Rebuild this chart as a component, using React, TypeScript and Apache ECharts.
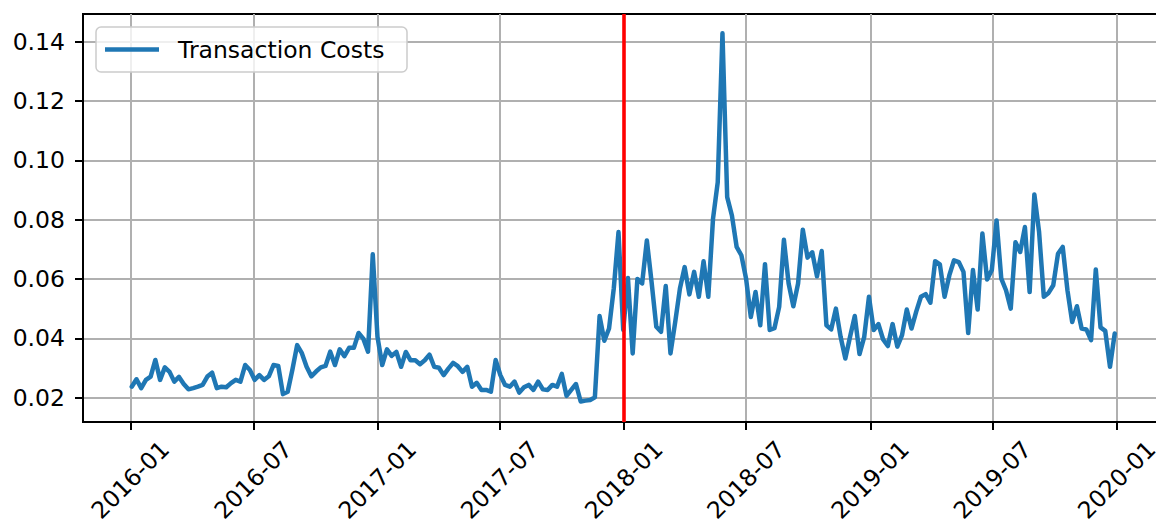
import React, { useEffect, useRef } from "react";
import * as echarts from "echarts";

const SERIES_NAME = "Transaction Costs";
const START_DATE = "2016-01-03"; // first weekly observation
const EVENT_DATE = "2018-01-01"; // red vertical marker
const X_TICKS = ["2016-01", "2016-07", "2017-01", "2017-07", "2018-01", "2018-07", "2019-01", "2019-07", "2020-01"];
const Y_TICKS = [0.02, 0.04, 0.06, 0.08, 0.1, 0.12, 0.14];

const VALUES_2016 = [
  0.0237, 0.0262, 0.0232, 0.026, 0.0271, 0.0327, 0.026, 0.0302, 0.0287, 0.0254, 0.027, 0.0246, 0.0228,
  0.0232, 0.0237, 0.0243, 0.0271, 0.0284, 0.0232, 0.0237, 0.0235, 0.0249, 0.026, 0.0254, 0.031, 0.0293,
  0.026, 0.0276, 0.026, 0.0272, 0.031, 0.0307, 0.0212, 0.022, 0.0295, 0.0377, 0.035, 0.0304, 0.0272,
  0.0288, 0.0302, 0.0307, 0.0355, 0.031, 0.0363, 0.034, 0.0368, 0.0368, 0.0418, 0.0399, 0.0355, 0.0683,
];
const VALUES_2017 = [
  0.0405, 0.031, 0.0363, 0.0341, 0.0354, 0.0304, 0.0354, 0.0326, 0.0326, 0.0313, 0.0326, 0.0345, 0.0304,
  0.0301, 0.0276, 0.0298, 0.0317, 0.0306, 0.0287, 0.0304, 0.0237, 0.025, 0.0226, 0.0226, 0.022, 0.0327,
  0.0276, 0.0243, 0.0237, 0.0254, 0.0217, 0.0235, 0.0243, 0.0226, 0.0254, 0.0228, 0.0226, 0.0243, 0.0237,
  0.028, 0.0206, 0.0226, 0.0246, 0.0187, 0.019, 0.0192, 0.0201, 0.0475, 0.0392, 0.0433, 0.0568, 0.0758,
];
const VALUES_2018 = [
  0.0428, 0.0603, 0.0349, 0.06, 0.0585, 0.073, 0.059, 0.0439, 0.0422, 0.0576, 0.0349, 0.0455, 0.0568,
  0.064, 0.0548, 0.0624, 0.054, 0.066, 0.054, 0.0803, 0.0926, 0.1428, 0.0876, 0.0814, 0.0708, 0.068,
  0.0601, 0.0472, 0.0556, 0.0444, 0.065, 0.0428, 0.0434, 0.0506, 0.0732, 0.0585, 0.0508, 0.0585, 0.0766,
  0.0672, 0.069, 0.0609, 0.0694, 0.0444, 0.043, 0.05, 0.0405, 0.0332, 0.0405, 0.0475, 0.0347, 0.0405, 0.054,
];
const VALUES_2019 = [
  0.0428, 0.0448, 0.0396, 0.0374, 0.0448, 0.0372, 0.0411, 0.0497, 0.0433, 0.049, 0.054, 0.0549, 0.052,
  0.066, 0.0649, 0.054, 0.0612, 0.0663, 0.0657, 0.0624, 0.0418, 0.063, 0.0497, 0.0753, 0.0598, 0.063, 0.0797,
  0.0601, 0.0562, 0.05, 0.0724, 0.0691, 0.0775, 0.0556, 0.0885, 0.0758, 0.054, 0.0553, 0.0579, 0.0685,
  0.0708, 0.0562, 0.0455, 0.0508, 0.0433, 0.043, 0.0394, 0.0632, 0.0437, 0.0425, 0.0304, 0.0416,
];
const VALUES = [...VALUES_2016, ...VALUES_2017, ...VALUES_2018, ...VALUES_2019];

const DAY = 86400000;
const parseDate = (s: string) => {
  const p = s.split("-").map(Number);
  return Date.UTC(p[0], p[1] - 1, p[2] || 1);
};
const FONT = "DejaVu Sans";
const FS = 23.5;
const LINE_W = 4.5;

export default function App() {
  const ref = useRef<HTMLDivElement>(null);
  useEffect(() => {
    if (!ref.current) return;
    const chart = echarts.init(ref.current, null, { renderer: "svg" });
    const start = parseDate(START_DATE);
    const data = VALUES.map((v, i) => [start + i * 7 * DAY, v]);
    const xTicks = X_TICKS.map(parseDate);
    const xMin = parseDate("2016-01-01") - 70.2 * DAY;
    const xMax = xMin + 1602.7 * DAY;
    const fmtX = (v: number) => {
      const d = new Date(v);
      return d.getUTCFullYear() + "-" + String(d.getUTCMonth() + 1).padStart(2, "0");
    };
    chart.setOption({
      animation: false,
      backgroundColor: "#ffffff",
      grid: {
        left: 83,
        top: 14,
        width: 1082,
        height: 408,
        containLabel: false,
        outerBoundsMode: "none",
        show: true,
        borderColor: "#000000",
        borderWidth: 2,
        backgroundColor: "transparent",
      },
      xAxis: {
        type: "value",
        min: xMin,
        max: xMax,
        axisLine: { show: true, lineStyle: { color: "#000", width: 2 } },
        axisTick: { show: true, length: 8, lineStyle: { color: "#000", width: 2 }, customValues: xTicks },
        axisLabel: {
          customValues: xTicks,
          formatter: fmtX,
          rotate: 45,
          align: "center",
          verticalAlign: "middle",
          margin: 58,
          color: "#000",
          fontFamily: FONT,
          fontSize: FS,
          lineHeight: 24,
        },
        splitLine: { show: true, lineStyle: { color: "#b0b0b0", width: 2 } },
      },
      yAxis: {
        type: "value",
        min: 0.0118,
        max: 0.1493,
        axisLine: { show: true, lineStyle: { color: "#000", width: 2 } },
        axisTick: { show: true, length: 8, lineStyle: { color: "#000", width: 2 }, customValues: Y_TICKS },
        axisLabel: {
          customValues: Y_TICKS,
          formatter: (v: number) => v.toFixed(2),
          margin: 18,
          color: "#000",
          fontFamily: FONT,
          fontSize: FS,
        },
        splitLine: { show: true, lineStyle: { color: "#b0b0b0", width: 2 } },
      },
      series: [
        {
          name: SERIES_NAME,
          type: "line",
          data,
          showSymbol: false,
          lineStyle: { color: "#1f77b4", width: LINE_W, join: "round", cap: "round" },
          z: 3,
          markLine: {
            silent: true,
            symbol: ["none", "none"],
            label: { show: false },
            lineStyle: { color: "#ff0000", width: 3.6, type: "solid" },
            data: [{ xAxis: parseDate(EVENT_DATE) }],
          },
        },
      ],
      graphic: [
        {
          type: "rect",
          z: 100,
          shape: { x: 96, y: 27, width: 311, height: 45, r: 5 },
          style: { fill: "rgba(255,255,255,0.8)", stroke: "#cccccc", lineWidth: 1.5 },
        },
        {
          type: "line",
          z: 101,
          shape: { x1: 105, y1: 49.5, x2: 159, y2: 49.5 },
          style: { stroke: "#1f77b4", lineWidth: LINE_W },
        },
        {
          type: "text",
          z: 102,
          x: 178,
          y: 50,
          style: {
            text: SERIES_NAME,
            fill: "#000",
            font: `${FS}px "${FONT}"`,
            verticalAlign: "middle",
            align: "left",
          },
        },
      ],
    });
    return () => chart.dispose();
  }, []);
  return <div ref={ref} style={{ position: "fixed", left: 0, top: 0, width: 1180, height: 526 }} />;
}
